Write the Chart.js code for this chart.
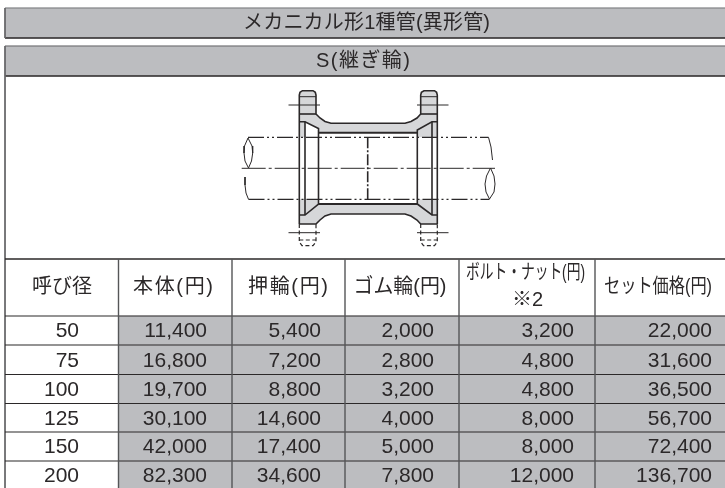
<!DOCTYPE html>
<html lang="ja">
<head>
<meta charset="utf-8">
<title>メカニカル形1種管(異形管)</title>
<style>
  html, body { margin: 0; background: #fff; }
  canvas { display: block; }
</style>
</head>
<body>
<canvas id="table" width="725" height="488"></canvas>
<script src="https://cdn.jsdelivr.net/npm/chart.js@4"></script>
<script>
// Datos de la tabla
const title = "メカニカル形1種管(異形管)";
const subtitle = "S(継ぎ輪)";
const headers = ["呼び径", "本体(円)", "押輪(円)", "ゴム輪(円)", "ボルト・ナット(円)", "セット価格(円)"];
const sizes = [50, 75, 100, 125, 150, 200];
const bodyPrice = [11400, 16800, 19700, 30100, 42000, 82300];
const ringPrice = [5400, 7200, 8800, 14600, 17400, 34600];
const rubberPrice = [2000, 2800, 3200, 4000, 5000, 7800];
const boltPrice = [3200, 4800, 4800, 8000, 8000, 12000];
const setPrice = [22000, 31600, 36500, 56700, 72400, 136700];

// Rejilla, en píxeles de la imagen
const colEdges = [5, 118.5, 232, 345, 459, 595, 725];
const rowEdges = [316, 345, 374.5, 403.5, 432, 461, 490];
const colRight = [79, 207, 321, 434, 574, 712];
const headCenter = [62, 173, 288, 400, 525.5, 658];
const headWidth = [60, 80, 80, 93, 119, 108];

const BAND = "#bcbdc0";
const LIGHT = "#d6d7d9";
const INK = "#2b2829";
const datasets = [];

function band(x0, x1, y0, y1) {
  datasets.push({
    type: "bar",
    data: [{ x: (x0 + x1) / 2, y: [y0, y1] }],
    backgroundColor: BAND,
    barThickness: x1 - x0,
    grouped: false,
  });
}

function line(pts, opts) {
  datasets.push({
    type: "line",
    data: pts.map((p) => ({ x: p[0], y: p[1] })),
    borderColor: INK,
    borderWidth: 1,
    pointRadius: 0,
    tension: 0,
    fill: false,
    ...opts,
  });
}

function shape(pts, color) {
  line(pts.concat([pts[0]]), { borderWidth: 0, fill: "shape", backgroundColor: color, borderColor: color });
}

// Bandas grises
band(5, 725, 8, 38);
band(5, 725, 46, 76);
for (let c = 1; c < 6; c++) {
  for (let r = 0; r < sizes.length; r++) band(colEdges[c], colEdges[c + 1], rowEdges[r], rowEdges[r + 1]);
}

// Dibujo de la pieza
shape([[299.3, 95], [300, 92.3], [302.5, 90.7], [313, 90.7], [315.3, 92.3], [316, 95], [316, 114], [320, 118], [325, 121.5], [331, 123.3],
  [405, 123.3], [411, 121.5], [417, 118], [420.7, 114], [420.7, 95], [421.4, 92.3], [424, 90.7], [434.5, 90.7], [436.6, 92.3], [437.3, 95],
  [437.3, 224], [420.7, 224], [417, 220], [411, 216], [405, 214], [331, 214], [325, 216], [320, 220], [316, 224], [299.3, 224]], LIGHT);
shape([[299.3, 137.3], [305, 137.3], [305, 121.7], [318.5, 128.5], [318.5, 132.7], [417.3, 132.7], [417.3, 137.3], [437.3, 137.3],
  [437.3, 199.3], [417.3, 199.3], [417.3, 204], [318.5, 204], [318.5, 199.3], [299.3, 199.3]], "#ffffff");

const thick = { borderWidth: 1.6 };
// contorno superior e inferior
line([[299.3, 224], [299.3, 95], [300, 92.3], [302.5, 90.7], [313, 90.7], [315.3, 92.3], [316, 95], [316, 114], [320, 118], [325, 121.5], [331, 123.3],
  [405, 123.3], [411, 121.5], [417, 118], [420.7, 114], [420.7, 95], [421.4, 92.3], [424, 90.7], [434.5, 90.7], [436.6, 92.3], [437.3, 95], [437.3, 224]], thick);
line([[299.3, 224], [316, 224], [320, 220], [325, 216], [331, 214], [405, 214], [411, 216], [417, 220], [420.7, 224], [437.3, 224]], thick);
line([[299.3, 96.7], [316, 96.7]], {});
line([[420.7, 96.7], [437.3, 96.7]], {});
line([[299.3, 114], [316, 114]], thick);
line([[420.7, 114], [437.3, 114]], thick);
// interior
line([[299.3, 121.7], [305, 121.7], [318.5, 128.5], [318.5, 204], [305, 215], [299.3, 215]], thick);
line([[305, 121.7], [305, 215]], thick);
line([[437.3, 121.7], [432, 121.7], [417.3, 130], [417.3, 204], [432, 215], [437.3, 215]], thick);
line([[432, 121.7], [432, 215]], thick);
line([[318.5, 132.7], [417.3, 132.7]], { borderWidth: 2 });
line([[318.5, 204], [417.3, 204]], { borderWidth: 2 });
// ejes y tubos
line([[248, 137.3], [488.5, 137.3]], { borderDash: [16, 3, 2, 3, 2, 3], borderWidth: 1.2 });
line([[248.5, 199.3], [489.5, 199.3]], { borderDash: [16, 3, 2, 3, 2, 3], borderWidth: 1.2 });
line([[241.7, 168.3], [495, 168.3]], { borderDash: [24, 3, 3, 3], borderWidth: 1 });
line([[367.7, 137.3], [367.7, 199.3]], { borderDash: [11, 2, 2, 2], borderWidth: 1.6 });
// cortes de los tubos
line([[248, 138], [244.5, 146], [244, 153], [245, 161], [248.5, 168]], {});
line([[248, 138], [252, 146], [252.7, 153], [251.5, 161], [248.5, 168]], {});
line([[245, 177], [245, 185], [246, 193], [248.5, 199.3]], {});
line([[488.5, 137.3], [491, 147], [492.5, 160]], {});
line([[490.5, 168], [486.5, 176], [485, 184], [486, 192], [489.5, 199]], {});
line([[490.5, 168], [494, 176], [495, 184], [494, 192], [489.5, 199]], {});
// pernos
line([[288.5, 105], [320, 105]], {});
line([[417, 105], [448.5, 105]], {});
line([[288.5, 232.7], [320, 232.7]], {});
line([[417, 232.7], [448.5, 232.7]], {});
const hidden = { borderDash: [4, 2.5], borderWidth: 1.2 };
line([[299.3, 224], [299.3, 242], [302, 245.7], [313, 245.7], [316, 242], [316, 224]], hidden);
line([[420.7, 224], [420.7, 242], [423.5, 245.7], [434.5, 245.7], [437.3, 242], [437.3, 224]], hidden);
line([[299.3, 240], [316, 240]], hidden);
line([[420.7, 240], [437.3, 240]], hidden);

// Líneas de la tabla
line([[5, 8], [725, 8]], { borderColor: "#77787a" });
line([[5, 38], [725, 38]], { borderWidth: 1.6 });
line([[5, 46], [725, 46]], { borderColor: "#666769" });
line([[5, 76], [725, 76]], { borderWidth: 1.6 });
line([[5, 8], [5, 38]], { borderColor: "#666769" });
line([[5, 46], [5, 490]], { borderColor: "#666769" });
line([[5, 259], [725, 259]], { borderWidth: 1.4 });
rowEdges.slice(0, -1).forEach((y) => line([[5, y], [725, y]], { borderWidth: 1.2 }));
colEdges.slice(1, -1).forEach((x) => line([[x, 259], [x, 490]], { borderColor: "#555658", borderWidth: 1.4 }));

datasets.reverse();

// Textos de la tabla
const tableText = {
  id: "tableText",
  afterDraw(chart) {
    const { ctx, scales } = chart;
    const jp = '"Liberation Sans", "Noto Sans CJK JP", sans-serif';
    const put = (s, x, y, align, font) => {
      ctx.font = font;
      ctx.textAlign = align;
      ctx.fillText(s, scales.x.getPixelForValue(x), scales.y.getPixelForValue(y));
    };
    // ajusta el ancho: separa las letras si falta, comprime si sobra
    const fit = (s, center, width, y) => {
      ctx.font = "20px " + jp;
      ctx.textAlign = "left";
      const natural = ctx.measureText(s).width;
      const px = scales.x.getPixelForValue(center - width / 2);
      const py = scales.y.getPixelForValue(y);
      if (natural < width) {
        ctx.letterSpacing = (width - natural) / (s.length - 1) + "px";
        ctx.fillText(s, px, py);
        ctx.letterSpacing = "0px";
      } else {
        ctx.fillText(s, px, py, width);
      }
    };
    ctx.save();
    ctx.fillStyle = INK;
    ctx.textBaseline = "middle";
    fit(title, 366.5, 247, 23.5);
    fit(subtitle, 363, 94, 61.5);
    headers.forEach((h, i) => {
      if (i === 4) {
        fit(h, headCenter[i], headWidth[i], 273);
        put("※2", 527.5, 300, "center", "20px " + jp);
      } else {
        fit(h, headCenter[i], headWidth[i], 287.5);
      }
    });
    [sizes, bodyPrice, ringPrice, rubberPrice, boltPrice, setPrice].forEach((col, c) => {
      col.forEach((v, r) => {
        const text = c === 0 ? String(v) : v.toLocaleString("en-US");
        put(text, colRight[c], (rowEdges[r] + rowEdges[r + 1]) / 2 + 1, "right", "21px " + jp);
      });
    });
    ctx.restore();
  },
};

new Chart(document.getElementById("table"), {
  type: "bar",
  data: { datasets },
  options: {
    responsive: false,
    animation: false,
    layout: { padding: 0 },
    plugins: { legend: { display: false }, tooltip: { enabled: false } },
    scales: {
      x: { type: "linear", min: 0, max: 725, offset: false, display: false },
      y: { type: "linear", min: 0, max: 488, reverse: true, display: false },
    },
  },
  plugins: [tableText],
});
</script>
</body>
</html>
